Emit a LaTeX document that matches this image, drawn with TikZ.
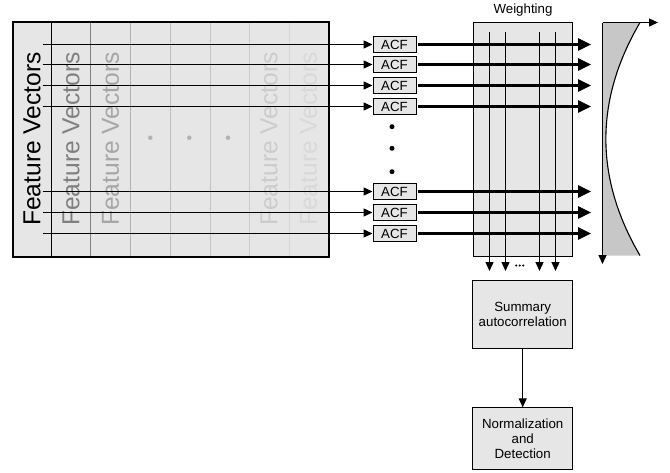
\documentclass[tikz,border=0pt]{standalone}
\usepackage{fontspec}
\setmainfont{Liberation Sans}
\usetikzlibrary{arrows.meta,shadings}
\definecolor{boxfill}{HTML}{E6E6E6}
\begin{document}
\begin{tikzpicture}[x=1pt,y=-1pt,
  small/.style={font=\fontsize{13.3}{15.5}\selectfont},
  fv/.style={rotate=90,font=\fontsize{24.6}{28}\selectfont,inner sep=0pt},
  acfbox/.style={draw=black,fill=boxfill,line width=0.9pt,minimum width=43pt,minimum height=16pt,inner sep=0pt,small},
  procbox/.style={draw=black,fill=boxfill,line width=1.1pt,minimum width=100pt,inner sep=0pt,small,align=center},
  thinarrow/.style={line width=1.3pt,-{Triangle[length=9pt,width=8pt]}},
  thickarrow/.style={line width=2.6pt,-{Triangle[length=13pt,width=12pt]}},
  vdot/.style={circle,fill=black,inner sep=0pt,minimum size=5pt},
  gdot/.style={circle,fill=black!30,inner sep=0pt,minimum size=4.5pt},
]
\useasboundingbox (0,0) rectangle (670,472);

% Feature vectors panel
\node[draw=black,fill=boxfill,line width=1pt,minimum width=315.3pt,minimum height=234pt,inner sep=0pt,anchor=north west] (panel) at (12.7,22) {};
\draw[line width=1.1pt,black] (51.5,22) -- (51.5,256);
\draw[line width=1.1pt,black!50] (90.5,22) -- (90.5,256);
\draw[line width=1.1pt,black!31] (130.5,22) -- (130.5,256);
\draw[line width=1.1pt,black!26] (170.5,22) -- (170.5,256);
\draw[line width=1.1pt,black!23] (210.5,22) -- (210.5,256);
\draw[line width=1.1pt,black!20] (249.5,22) -- (249.5,256);
\draw[line width=1.1pt,black!16] (289.5,22) -- (289.5,256);
\draw[line width=1.2pt,black] (panel.north west) rectangle (panel.south east);

\node[fv,text=black] (fv1) at (32,139) {Feature Vectors};
\node[fv,text=black!50] (fv2) at (71,139) {Feature Vectors};
\node[fv,text=black!35] (fv3) at (110.5,139) {Feature Vectors};
\node[gdot] (d1) at (150.3,137.7) {};
\node[gdot] (d2) at (189.3,137.7) {};
\node[gdot] (d3) at (228,137.7) {};
\node[fv,text=black!20] (fv7) at (269,139) {Feature Vectors};
\node[fv,text=black!15] (fv8) at (308.5,139) {Feature Vectors};

% ACF boxes
\foreach \i/\y in {1/44.5,2/64.5,3/85.5,4/106.5,5/191.5,6/212.5,7/233.5}{
  \node[acfbox] (acf\i) at (394.5,\y) {ACF};
  \coordinate (s\i) at (42.7,\y);
  \coordinate (e\i) at (591,\y);
  \draw[thinarrow] (s\i) -- (acf\i.west);
}

\node[vdot] (v1) at (392,126.7) {};
\node[vdot] (v2) at (392,148.3) {};
\node[vdot] (v3) at (392,171.7) {};

% Weighting box
\node[draw=black,fill=boxfill,line width=1.1pt,minimum width=99pt,minimum height=234pt,inner sep=0pt,anchor=north west] (weight) at (473.3,22) {};
\node[small,anchor=south] (wlabel) at (523,20) {Weighting};

% vertical arrows
\foreach \j/\x in {1/489.5,2/505.5,3/539.5,4/555.5}{
  \coordinate (vt\j) at (\x,31.5);
  \coordinate (vb\j) at (\x,271);
  \draw[thinarrow] (vt\j) -- (vb\j);
}
\foreach \k/\x in {1/516.2,2/519.7,3/523.2}{
  \node[circle,fill=black,inner sep=0pt,minimum size=2.2pt] (hd\k) at (\x,265.5) {};
}

% thick arrows
\foreach \i in {1,...,7}{
  \draw[thickarrow] (acf\i.east) ++(2,0) -- (e\i);
}

% gradient shape
\coordinate (gtl) at (602.5,22.5);
\coordinate (gtr) at (640,22.5);
\coordinate (gbr) at (640,255.5);
\coordinate (gbl) at (602.5,255.5);
\shade[top color=black!22,middle color=black!3,bottom color=black!22]
  (gtl) -- (gtr) .. controls (594.5,100) and (594.5,178) .. (gbr) -- (gbl) -- cycle;
\draw[line width=1.1pt] (gtr) .. controls (594.5,100) and (594.5,178) .. (gbr);
\coordinate (gtop) at (658,22.5);
\coordinate (gbot) at (602.5,264);
\draw[thinarrow] (gtl) -- (gtop);
\draw[thinarrow] (gtl) -- (gbot);

% processing boxes
\node[procbox,minimum height=67.7pt,anchor=north] (summary) at (522.7,280) {Summary\\autocorrelation};
\node[procbox,minimum height=62pt,anchor=north,font=\fontsize{13.3}{14.7}\selectfont] (norm) at (522.7,407.3) {Normalization\\and\\Detection};
\draw[thinarrow] (summary.south) -- (norm.north);
\end{tikzpicture}
\end{document}
